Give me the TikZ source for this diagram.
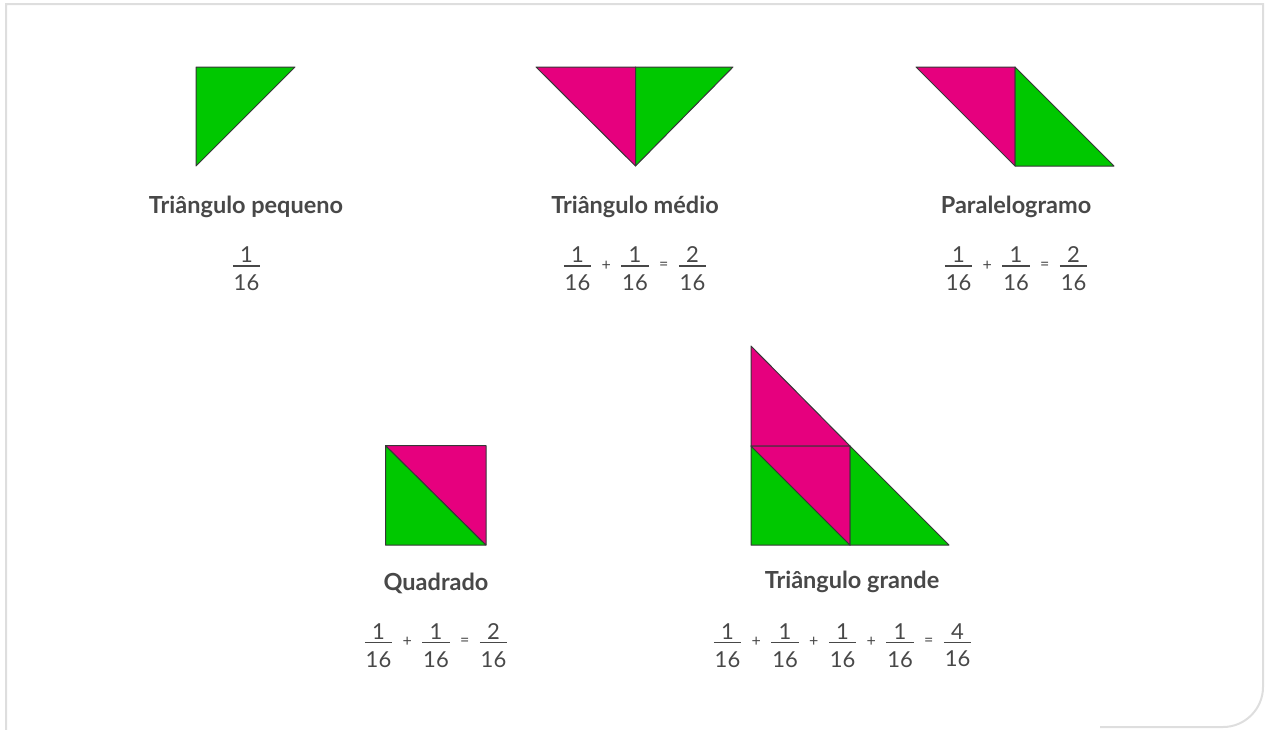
\documentclass[tikz,border=0pt]{standalone}
\usepackage{fontspec}
\setmainfont{Lato}
\usepackage{xcolor}
\definecolor{tanverde}{RGB}{0,200,0}
\definecolor{tanrosa}{RGB}{230,0,126}
\definecolor{tanborda}{RGB}{55,55,55}
\definecolor{tantexto}{RGB}{72,72,72}
\definecolor{tanmoldura}{RGB}{222,222,222}
\usetikzlibrary{positioning,calc}
\setlength{\arrayrulewidth}{1.2pt}
\newcommand{\frc}[1]{\begin{tabular}{@{\hspace{0.8pt}}c@{\hspace{0.8pt}}}#1\\\hline\rule{0pt}{23.7pt}16\end{tabular}}
\tikzset{
  verde/.style  ={fill=tanverde,draw=tanborda,line width=1pt,line join=round},
  rosa/.style   ={fill=tanrosa,draw=tanborda,line width=1pt,line join=round},
  rotulo/.style ={font=\bfseries\fontsize{23.5}{28}\selectfont,text=tantexto,anchor=base,inner sep=0pt},
  fracao/.style ={font=\fontsize{22}{8.7}\selectfont,text=tantexto,anchor=north,inner sep=0pt},
  oper/.style   ={font=\fontsize{16}{18}\selectfont,text=tantexto,inner sep=0pt},
  moldura/.style={draw=tanmoldura,line width=2pt},
}
\begin{document}
\begin{tikzpicture}[x=1pt,y=-1pt]
  \useasboundingbox (0,0) rectangle (1266,729);
  % moldura
  \draw[moldura] (6,730) -- (6,4) -- (1263,4) -- (1263,687)
    .. controls (1263,709) and (1245,727) .. (1223,727) -- (1100,727);

  % triangulo pequeno
  \draw[verde] (196,67) -- (295,67) -- (196,166) -- cycle;
  % triangulo medio
  \draw[rosa]  (536,67) -- (635.5,67) -- (635.5,166) -- cycle;
  \draw[verde] (635.5,67) -- (733,67) -- (635.5,166) -- cycle;
  % paralelogramo
  \draw[rosa]  (916,67) -- (1015,67) -- (1015,166) -- cycle;
  \draw[verde] (1015,67) -- (1114,166) -- (1015,166) -- cycle;
  % quadrado
  \draw[verde] (385.5,445.5) -- (486,545) -- (385.5,545) -- cycle;
  \draw[rosa]  (385.5,445.5) -- (486,445.5) -- (486,545) -- cycle;
  % triangulo grande
  \draw[rosa]  (751,346) -- (850,446) -- (751,446) -- cycle;
  \draw[verde] (751,446) -- (850,545) -- (751,545) -- cycle;
  \draw[rosa]  (751,446) -- (850,446) -- (850,545) -- cycle;
  \draw[verde] (850,446) -- (949,545) -- (850,545) -- cycle;

  % rotulos
  \node[rotulo] (lbpeq) at (246,213) {Triângulo pequeno};
  \node[rotulo] (lbmed) at (635,213) {Triângulo médio};
  \node[rotulo] (lbpar) at (1016,213) {Paralelogramo};
  \node[rotulo] (lbqua) at (436,590) {Quadrado};
  \node[rotulo] (lbgra) at (852,588) {Triângulo grande};

  % fracoes
  \node[fracao] (fpeq) at (246.5,246.7) {\frc{1}};
  \foreach \i/\n in {1/1,2/1,3/2}
    \node[fracao] (fmed\i) at (520+57.5*\i,246.7) {\frc{\n}};
  \foreach \i/\s in {1/+,2/=}
    \node[oper] (omed\i) at (548.75+57.5*\i,265.7) {\s};
  \foreach \i/\n in {1/1,2/1,3/2}
    \node[fracao] (fpar\i) at (901+57.5*\i,246.7) {\frc{\n}};
  \foreach \i/\s in {1/+,2/=}
    \node[oper] (opar\i) at (929.75+57.5*\i,265.7) {\s};
  \foreach \i/\n in {1/1,2/1,3/2}
    \node[fracao] (fqua\i) at (321+57.5*\i,623.5) {\frc{\n}};
  \foreach \i/\s in {1/+,2/=}
    \node[oper] (oqua\i) at (349.75+57.5*\i,642) {\s};
  \foreach \i/\n in {1/1,2/1,3/1,4/1,5/4}
    \node[fracao] (fgra\i) at (670+57.5*\i,623.5) {\frc{\n}};
  \foreach \i/\s in {1/+,2/+,3/+,4/=}
    \node[oper] (ogra\i) at (698.75+57.5*\i,642) {\s};
\end{tikzpicture}
\end{document}
